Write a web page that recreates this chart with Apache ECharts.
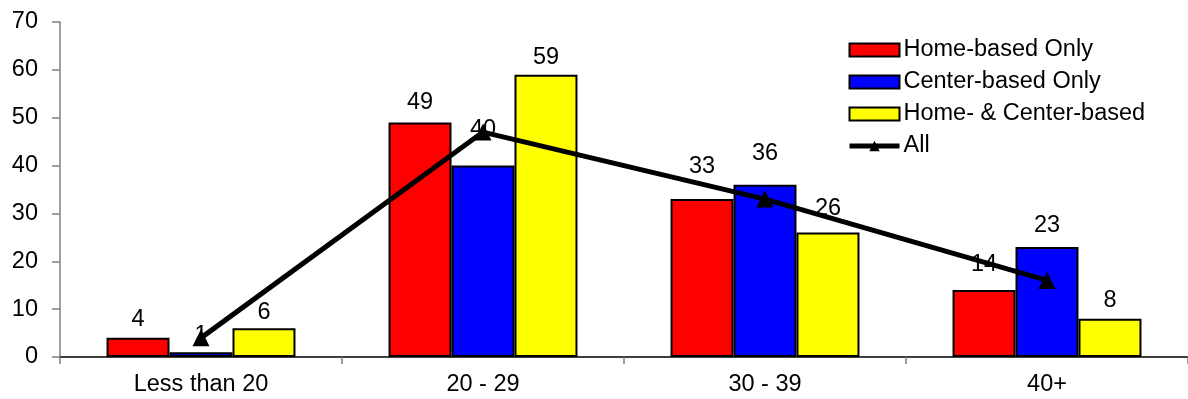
<!DOCTYPE html>
<html>
<head>
<meta charset="utf-8">
<script src="https://cdn.jsdelivr.net/npm/echarts@6/dist/echarts.min.js"></script>
<style>
html,body{margin:0;padding:0;background:#fff;}
#c{width:1188px;height:399px;}
</style>
</head>
<body>
<div id="c"></div>
<script>
const categories = ['Less than 20', '20 - 29', '30 - 39', '40+'];
const homeOnly = [4, 49, 33, 14];
const centerOnly = [1, 40, 36, 23];
const homeCenter = [6, 59, 26, 8];
const allValues = [4, 47, 33, 16];
const yTicks = [0, 10, 20, 30, 40, 50, 60, 70];

const FONT = 'Arial, "Liberation Sans", sans-serif';
const FS = 23.5;
const chart = echarts.init(document.getElementById('c'), null, {renderer: 'canvas'});

// label placement tweaks (px distance above bar top), as in the original layout
const labelLift = {
  'Home-based Only': [6, 8, 21, 13],
  'Center-based Only': [5, 24, 19, 9],
  'Home- & Center-based': [4, 5, 12, 6]
};

function barSeries(name, values, color) {
  return {
    name: name,
    type: 'bar',
    data: values.map(function (v, i) {
      return {value: v, label: {distance: labelLift[name][i]}};
    }),
    barGap: '0%',
    barCategoryGap: '33%',
    itemStyle: {color: color, borderColor: '#000', borderWidth: 2},
    label: {
      show: true, position: 'top',
      color: '#000', fontSize: FS, fontFamily: FONT
    },
    z: 2
  };
}

chart.setOption({
  animation: false,
  backgroundColor: '#fff',
  textStyle: {fontFamily: FONT},
  grid: {left: 60, right: 0, top: 22, bottom: 42, containLabel: false},
  legend: {
    orient: 'vertical',
    left: 842, top: 33,
    itemWidth: 50, itemHeight: 13,
    itemGap: 8,
    textStyle: {color: '#000', fontSize: FS, fontFamily: FONT, lineHeight: 24, padding: [0, 0, 0, -1]},
    data: [
      {name: 'Home-based Only', icon: 'rect'},
      {name: 'Center-based Only', icon: 'rect'},
      {name: 'Home- & Center-based', icon: 'rect'},
      {name: 'All', lineStyle: {width: 5, color: '#000'}, itemStyle: {color: '#000'}}
    ]
  },
  xAxis: {
    type: 'category',
    data: categories,
    axisLine: {lineStyle: {color: '#000', width: 1.5}},
    axisTick: {show: true, length: 7, lineStyle: {color: '#808080', width: 1.5}},
    axisLabel: {color: '#000', fontSize: FS, fontFamily: FONT, margin: 16},
    splitLine: {show: false}
  },
  yAxis: {
    type: 'value',
    min: yTicks[0], max: yTicks[yTicks.length - 1], interval: 10,
    axisLine: {show: true, lineStyle: {color: '#808080', width: 1.5}},
    axisTick: {show: true, length: 8, lineStyle: {color: '#808080', width: 1.5}},
    axisLabel: {color: '#000', fontSize: FS, fontFamily: FONT, margin: 22},
    splitLine: {show: false}
  },
  series: [
    barSeries('Home-based Only', homeOnly, '#ff0000'),
    barSeries('Center-based Only', centerOnly, '#0000ff'),
    barSeries('Home- & Center-based', homeCenter, '#ffff00'),
    {
      name: 'All',
      type: 'line',
      data: allValues,
      symbol: 'triangle',
      symbolSize: 17,
      lineStyle: {color: '#000', width: 5},
      itemStyle: {color: '#000'},
      z: 10,
      zlevel: 1
    }
  ]
});
</script>
</body>
</html>
